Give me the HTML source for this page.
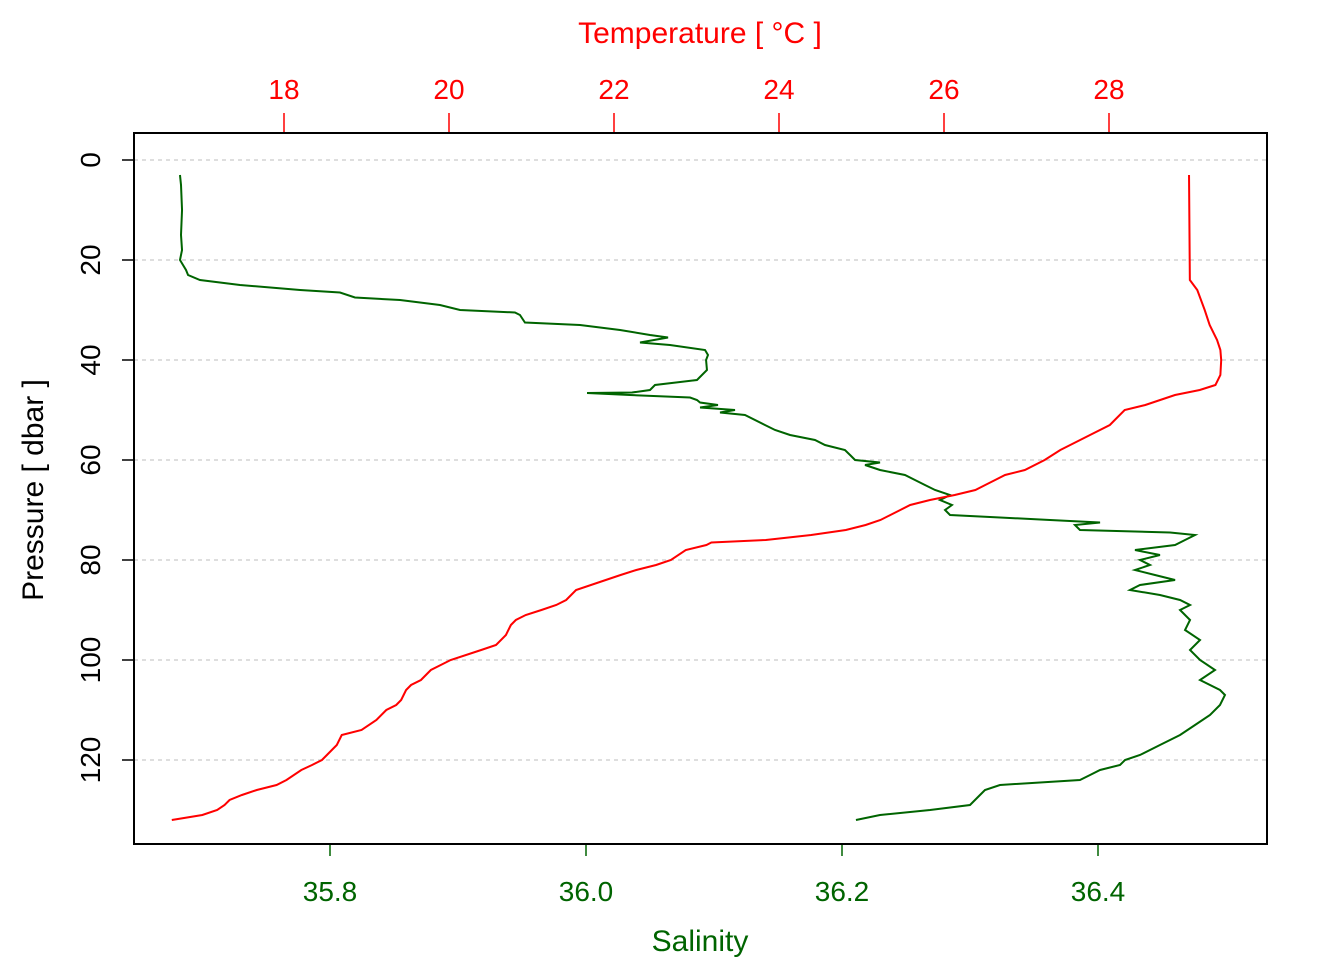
<!DOCTYPE html>
<html><head><meta charset="utf-8"><style>
body{margin:0;background:#fff;}
svg{display:block;font-family:"Liberation Sans",sans-serif;}
</style></head><body>
<svg id="chart" width="1344" height="960" viewBox="0 0 1344 960"></svg>
<script>
const pressure = [3,5,10,15,18,20,22,23,24,25,26,26.5,27.5,28,29,30,30.5,31,32.5,33,34,35,35.5,36.5,37,38,39,40,42,44,45,46,46.5,46.6,47,47.5,48,48.5,49,49.5,50,50.5,51,53,54,55,56,57,58,59,60,60.5,61,62,63,64,65,66,67,68,69,70,71,71.5,72,72.5,73,74,74.5,75,76,77,78,79,80,81,82,83,84,85,86,87,88,89,90,92,94,96,98,100,102,104,106,107,109,111,113,115,117,119,120,121,122,123,124,125,126,127,128,129,130,131,132];
const salinity = [35.6828,35.6836,35.6844,35.6836,35.6844,35.6828,35.6875,35.6891,35.6984,35.7297,35.7766,35.8078,35.8195,35.8547,35.8859,35.9016,35.9445,35.9484,35.9523,35.9953,36.0266,36.0500,36.0641,36.0422,36.0656,36.0930,36.0953,36.0938,36.0945,36.0867,36.0539,36.0500,36.0359,36.0008,36.0344,36.0813,36.0867,36.0891,36.1031,36.0891,36.1164,36.1047,36.1242,36.1398,36.1477,36.1594,36.1789,36.1867,36.2023,36.2063,36.2102,36.2297,36.2180,36.2297,36.2492,36.2570,36.2648,36.2727,36.2844,36.2766,36.2859,36.2805,36.2844,36.3234,36.3625,36.4016,36.3820,36.3859,36.4563,36.4758,36.4680,36.4602,36.4289,36.4484,36.4328,36.4406,36.4289,36.4445,36.4602,36.4328,36.4250,36.4484,36.4641,36.4719,36.4641,36.4719,36.4680,36.4797,36.4719,36.4797,36.4914,36.4797,36.4953,36.4992,36.4953,36.4875,36.4758,36.4641,36.4484,36.4328,36.4211,36.4172,36.4016,36.3938,36.3859,36.3234,36.3117,36.3078,36.3039,36.3000,36.2688,36.2297,36.2109];
const tPressure = [3,24,26,30,33,36,38,40,43,45,46,47,48,49,50,52,53,55,57,58,60,62,63,64,65,66,67,68,69,70,71,72,73,74,75,76,76.5,77,78,80,81,82,83,84,86,88,89,90,91,92,93,95,97,98,100,101,102,103,104,105,106,108,109,110,112,114,115,117,119,120,121,122,124,125,126,127,128,129,130,131,132];
const temperature = [28.97,28.98,29.07,29.16,29.22,29.31,29.35,29.36,29.35,29.29,29.10,28.80,28.62,28.44,28.19,28.07,28.01,27.77,27.53,27.41,27.22,26.98,26.74,26.62,26.50,26.38,26.13,25.83,25.59,25.47,25.35,25.23,25.05,24.81,24.39,23.84,23.18,23.12,22.87,22.69,22.51,22.27,22.08,21.90,21.54,21.42,21.30,21.12,20.93,20.81,20.75,20.69,20.57,20.39,20.02,19.90,19.78,19.72,19.66,19.54,19.48,19.42,19.36,19.24,19.12,18.94,18.70,18.64,18.52,18.46,18.34,18.21,18.03,17.91,17.67,17.49,17.34,17.28,17.19,17.01,16.64];
const pTicks = [0,20,40,60,80,100,120];
const sTicks = [35.8,36.0,36.2,36.4];
const tTicks = [18,20,22,24,26,28];

const L=134,R=1267,T=133,B=844;
const yP = p => 160 + p*5;
const xS = s => 330 + (s-35.8)*1280;
const xT = t => 284 + (t-18)*82.5;
const svg = document.getElementById('chart');
const NS='http://www.w3.org/2000/svg';
function mk(tag, attrs, txt){const e=document.createElementNS(NS,tag);for(const k in attrs)e.setAttribute(k,attrs[k]);if(txt!=null)e.textContent=txt;svg.appendChild(e);return e;}

pTicks.forEach(p=>{
  const g=mk('line',{x1:L,x2:R,y1:yP(p),y2:yP(p),stroke:'#d3d3d3','stroke-width':1.5,'stroke-dasharray':'4,4'});
  
  
  const t=mk('line',{x1:L,x2:L-12,y1:yP(p),y2:yP(p),stroke:'#000','stroke-width':1.5});
  
  
  const lb=mk('text',{x:0,y:0,transform:`translate(100,${yP(p)}) rotate(-90)`,'text-anchor':'middle','font-size':28,fill:'#000'},String(p));
  
  
});
sTicks.forEach(s=>{
  const t=mk('line',{x1:xS(s),x2:xS(s),y1:B,y2:B+12,stroke:'#006400','stroke-width':1.5});
  
  
  const lb=mk('text',{x:xS(s),y:901,'text-anchor':'middle','font-size':28,fill:'#006400'},s.toFixed(1));
  
  
});
tTicks.forEach(v=>{
  const t=mk('line',{x1:xT(v),x2:xT(v),y1:T,y2:T-20,stroke:'#ff0000','stroke-width':1.5});
  
  
  const lb=mk('text',{x:xT(v),y:99,'text-anchor':'middle','font-size':28,fill:'#ff0000'},String(v));
  
  
});

const sl=mk('polyline',{points:pressure.map((p,i)=>xS(salinity[i])+','+yP(p)).join(' '),fill:'none',stroke:'#006400','stroke-width':2});


const tl=mk('polyline',{points:tPressure.map((p,i)=>xT(temperature[i])+','+yP(p)).join(' '),fill:'none',stroke:'#ff0000','stroke-width':2});



const box=mk('rect',{x:L,y:T,width:R-L,height:B-T,fill:'none',stroke:'#000','stroke-width':2});



const tt=mk('text',{x:700,y:43,'text-anchor':'middle','font-size':30,fill:'#ff0000'},'Temperature [ °C ]');


const st=mk('text',{x:700,y:951,'text-anchor':'middle','font-size':30,fill:'#006400'},'Salinity');


const yt=mk('text',{x:0,y:0,transform:'translate(43,490) rotate(-90)','text-anchor':'middle','font-size':30,fill:'#000'},'Pressure [ dbar ]');


</script>
</body></html>
